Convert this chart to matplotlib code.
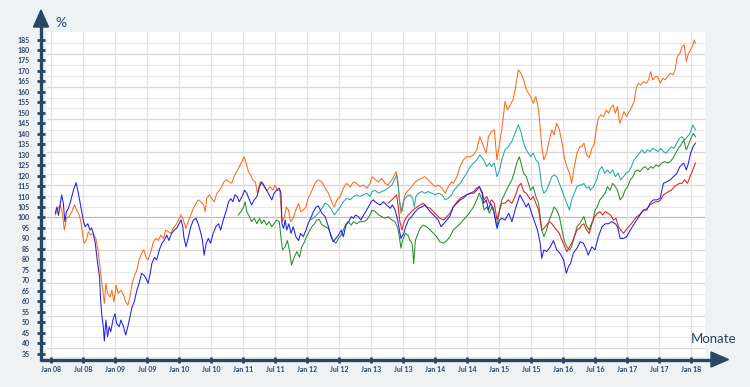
import matplotlib.pyplot as plt
from matplotlib.lines import Line2D
from matplotlib.patches import Polygon

# (months since Jan 2008, value in %)
orange = [(0.8, 101.2), (1.3, 104.4), (1.7, 106), (2.1, 102.8), (2.5, 94), (2.9, 99.6), (3.4, 100.4), (3.9, 102.8),
          (4.4, 106), (4.8, 103.6), (5.3, 101.2), (5.6, 98), (5.9, 92.4), (6.2, 87.7), (6.6, 89), (7.0, 93.2),
          (7.4, 91.6), (7.9, 92.4), (8.4, 90), (8.8, 84.5), (9.1, 78), (9.4, 71.7), (9.7, 65.3), (10.0, 59),
          (10.3, 68.5), (10.6, 63.7), (11.1, 62), (11.4, 65.3), (11.8, 59.7), (12.2, 67.7), (12.6, 63.7),
          (13.1, 65.3), (13.6, 63), (14.0, 59.7), (14.4, 58.1), (14.8, 62), (15.2, 68.5), (15.6, 71.7), (16.1, 75),
          (16.5, 79.7), (17.0, 82.9), (17.4, 84.5), (17.8, 81), (18.2, 79.7), (18.8, 84.5), (19.2, 88.4),
          (19.7, 90), (20.1, 89), (20.6, 91.6), (21.1, 90), (21.5, 94), (22.0, 93.2), (22.5, 92.4), (22.9, 94.8),
          (23.4, 96.4), (23.9, 98.8), (24.4, 101.2), (24.8, 98.8), (25.3, 94.8), (25.7, 98), (26.2, 101.2),
          (26.7, 104.4), (27.2, 106.8), (27.6, 108.4), (28.1, 107.5), (28.6, 106), (28.9, 102.8), (29.2, 109.2),
          (29.7, 110.8), (30.1, 109.2), (30.6, 107.5), (31.1, 111.6), (31.6, 113), (32.0, 114.7), (32.4, 117),
          (32.9, 118), (33.4, 117), (33.9, 116.3), (34.3, 119.5), (34.8, 121.9), (35.3, 124.3), (35.8, 126.7),
          (36.2, 129), (36.6, 125.9), (37.0, 121.9), (37.4, 120.3), (37.8, 118), (38.3, 117), (38.7, 111.6),
          (39.2, 117), (39.7, 115.5), (40.1, 114), (40.6, 113), (41.1, 114.7), (41.6, 113), (42.0, 115.5),
          (42.4, 113), (42.9, 113), (43.3, 98), (43.7, 99.6), (44.1, 105), (44.5, 103.6), (44.9, 98), (45.4, 99.6),
          (45.9, 103.6), (46.4, 106.8), (46.8, 102.8), (47.3, 103.6), (47.8, 105), (48.2, 109.2), (48.7, 111.6),
          (49.2, 114.7), (49.7, 117), (50.1, 118), (50.8, 117), (51.4, 114), (52.0, 111.6), (52.6, 107.5),
          (53.1, 105), (53.6, 108.4), (54.2, 110), (54.8, 114), (55.4, 116.3), (56.1, 114.7), (56.7, 117),
          (57.3, 116.3), (57.9, 114.7), (58.6, 115.5), (59.2, 114), (59.8, 116.3), (60.2, 119.5), (60.8, 118),
          (61.4, 117), (62.0, 118.7), (62.6, 116.3), (63.2, 115.5), (63.9, 118), (64.4, 120.3), (64.7, 121.9),
          (65.0, 118), (65.3, 108.4), (65.6, 102), (66.1, 108.4), (66.5, 111.6), (67.0, 113), (67.6, 114.7),
          (68.3, 117), (68.9, 118), (69.5, 118.7), (70.1, 119.5), (70.7, 118), (71.4, 116.3), (72.0, 114.7),
          (72.6, 115.5), (73.3, 114), (73.9, 111.6), (74.5, 114.7), (75.1, 117), (75.4, 116.3), (76.1, 119.5),
          (76.7, 124.3), (77.3, 127.5), (77.9, 129), (78.6, 129), (79.2, 129.9), (79.8, 132.3), (80.4, 138.6),
          (81.1, 133.8), (81.6, 130.7), (82.0, 138.6), (82.6, 141), (83.1, 141.9), (83.6, 127.5), (84.1, 135.5),
          (84.5, 141.9), (84.8, 148.2), (85.1, 155.4), (85.6, 151.4), (86.1, 153.8), (86.6, 156.2), (87.0, 161),
          (87.3, 165.7), (87.6, 170.5), (88.1, 168.9), (88.6, 165.7), (89.1, 161), (89.5, 159.3), (89.9, 157.8),
          (90.4, 154.6), (90.9, 157.8), (91.4, 151.4), (91.7, 143.4), (92.0, 133.8), (92.4, 127.5), (92.9, 130.7),
          (93.4, 137), (93.9, 141.9), (94.3, 139.4), (94.8, 145), (95.3, 141.9), (95.8, 135.5), (96.2, 129),
          (96.7, 124.3), (97.2, 121.1), (97.6, 116.3), (98.1, 124.3), (98.6, 130.7), (99.1, 133.8), (99.5, 133.8),
          (99.9, 135.5), (100.4, 129.9), (100.9, 128.5), (101.4, 133), (101.8, 134.7), (102.2, 141.9),
          (102.6, 147.5), (103.1, 149), (103.6, 148.2), (104.1, 151.4), (104.5, 149.8), (104.9, 152.2),
          (105.4, 153.8), (105.8, 149.8), (106.2, 153), (106.6, 145), (107.0, 147.5), (107.4, 150.6),
          (107.9, 148.2), (108.4, 150.6), (108.9, 153), (109.3, 155.4), (109.7, 161.7), (110.1, 164.1),
          (110.6, 163.3), (111.1, 164.9), (111.6, 164.1), (112.0, 165.7), (112.4, 169.7), (112.8, 165.7),
          (113.3, 167.3), (113.7, 167.3), (114.2, 164.1), (114.7, 166.5), (115.1, 165.7), (115.6, 167.3),
          (116.1, 168.9), (116.6, 168.1), (117.0, 170.5), (117.4, 176.8), (117.9, 178.4), (118.3, 181.6),
          (118.7, 182.4), (119.1, 174.5), (119.5, 178.4), (119.9, 180), (120.3, 182.4), (120.6, 184.8),
          (120.8, 183.2)]

teal = [(48.8, 99), (49.5, 100.4), (50.1, 102), (50.8, 104.4), (51.4, 106.8), (52.0, 106), (52.6, 103.6),
        (53.1, 101.2), (53.6, 102.8), (54.2, 105), (54.8, 107.5), (55.4, 109.2), (56.1, 108.4), (56.7, 110),
        (57.3, 110.8), (57.9, 110), (58.6, 110.8), (59.2, 111.6), (59.8, 110), (60.2, 112.4), (60.8, 113),
        (61.4, 111.6), (62.0, 112.4), (62.6, 113), (63.2, 114), (63.9, 115.5), (64.5, 118.7), (64.8, 120.3),
        (65.1, 114.7), (65.4, 106.8), (65.8, 102.8), (66.2, 108.4), (66.7, 110), (67.3, 110.8), (67.8, 109.2),
        (68.1, 105), (68.4, 110), (68.9, 111.6), (69.5, 112.4), (70.1, 111.6), (70.7, 112.4), (71.4, 111.6),
        (72.0, 110.8), (72.6, 111.6), (73.3, 110.8), (73.9, 108.4), (74.5, 109.2), (75.1, 110.8), (75.4, 112.4),
        (76.1, 114.7), (76.7, 116.3), (77.3, 118.7), (77.9, 121.1), (78.6, 124.3), (79.2, 126), (79.8, 127.5),
        (80.4, 129.9), (81.1, 127.5), (81.7, 124.3), (82.2, 126), (82.6, 124.3), (83.1, 126), (83.6, 119.5),
        (84.1, 122.7), (84.5, 127.5), (85.1, 132.3), (85.7, 133.8), (86.4, 136.3), (87.0, 140.2), (87.6, 144.2),
        (88.1, 141), (88.6, 135.5), (89.1, 132.3), (89.5, 130.7), (89.9, 129), (90.4, 130.7), (90.9, 127.5),
        (91.4, 126), (91.7, 121.1), (92.0, 114.7), (92.4, 111.6), (92.9, 113), (93.4, 116.3), (93.9, 119.5),
        (94.3, 120.3), (94.8, 119.5), (95.3, 116.3), (95.8, 113), (96.2, 110), (96.7, 106.8), (97.2, 103.6),
        (97.6, 108.4), (98.1, 111.6), (98.6, 114.7), (99.1, 115.5), (99.5, 115.5), (99.9, 116.3), (100.4, 114),
        (100.9, 114.7), (101.1, 113), (101.7, 114.7), (102.3, 118), (102.8, 122.7), (103.3, 124.3),
        (103.8, 121.1), (104.3, 122.7), (104.8, 121.1), (105.3, 122.7), (105.8, 119.5), (106.3, 121.1),
        (106.8, 118), (107.3, 119.5), (107.8, 121.1), (108.3, 121.9), (108.8, 124.3), (109.3, 127.5),
        (109.8, 129), (110.3, 130.7), (110.8, 132.3), (111.3, 130.7), (111.8, 132.3), (112.3, 131.5),
        (112.8, 133), (113.3, 132.3), (113.8, 131.5), (114.3, 133), (114.8, 131.5), (115.3, 130.7),
        (115.8, 132.3), (116.3, 133.8), (116.8, 133), (117.3, 135.5), (117.8, 137.8), (118.3, 138.6),
        (118.8, 137), (119.3, 138.6), (119.8, 140.2), (120.3, 144.2), (120.8, 141.9)]

green = [(35.1, 101.2), (35.6, 102.8), (36.1, 105), (36.4, 107.5), (36.7, 102.8), (37.2, 100.4), (37.6, 98),
         (38.1, 99.6), (38.6, 97), (39.1, 99.6), (39.5, 97), (39.9, 98.8), (40.4, 96.4), (40.9, 98), (41.4, 95.6),
         (41.8, 97), (42.3, 98.8), (42.8, 98), (43.1, 90.8), (43.4, 84.5), (43.9, 86), (44.3, 89), (44.7, 84.5),
         (45.1, 77.3), (45.6, 81), (46.1, 83.7), (46.6, 81), (47.0, 86), (47.4, 87.7), (47.9, 90.8), (48.4, 93.2),
         (48.9, 95.6), (49.4, 97), (49.8, 98.8), (50.3, 99), (50.8, 96.4), (51.4, 95.6), (52.0, 94.8),
         (52.5, 91.6), (52.9, 89), (53.4, 87.7), (53.9, 90), (54.4, 91.6), (54.8, 94), (55.3, 97), (55.7, 98),
         (56.3, 96.4), (56.7, 98), (57.3, 97), (57.9, 98), (58.6, 98), (59.2, 98.8), (59.8, 101.2), (60.2, 103.6),
         (60.8, 102.8), (61.4, 101.2), (62.0, 100.4), (62.6, 99.6), (63.2, 100.4), (63.9, 98.8), (64.5, 98),
         (65.0, 94.8), (65.3, 90.8), (65.6, 85.3), (65.9, 89), (66.4, 92.4), (66.9, 91.6), (67.3, 89),
         (67.7, 87.7), (68.0, 78), (68.3, 89), (68.8, 92.4), (69.2, 94.8), (69.8, 96.4), (70.4, 95.6), (71.1, 94),
         (71.7, 92.4), (72.3, 90.8), (72.9, 88.4), (73.6, 87.7), (74.2, 89), (74.8, 90.8), (75.4, 94),
         (76.1, 95.6), (76.7, 97), (77.3, 98.8), (77.9, 100.4), (78.6, 102.8), (79.2, 105), (79.8, 108.4),
         (80.3, 111.6), (80.8, 108.4), (81.2, 103.6), (81.7, 105), (82.2, 102), (82.6, 105), (83.1, 102),
         (83.6, 95.6), (84.1, 103.6), (84.5, 108.4), (85.1, 111.6), (85.7, 114.7), (86.4, 118), (86.8, 121.1),
         (87.3, 126), (87.8, 129), (88.1, 126), (88.6, 121.1), (89.1, 119.5), (89.5, 116.3), (89.9, 113),
         (90.4, 114.7), (90.9, 110), (91.4, 106.8), (91.7, 100.4), (92.0, 94), (92.4, 90.8), (92.9, 94),
         (93.4, 98.8), (93.9, 102), (94.3, 105), (94.8, 103.6), (95.3, 100.4), (95.8, 94), (96.2, 89), (96.7, 86),
         (97.2, 84.5), (97.6, 86), (98.1, 90.8), (98.6, 95.6), (99.1, 97), (99.5, 98.8), (99.9, 100.4),
         (100.4, 96), (100.9, 94), (101.1, 95.6), (101.6, 98.8), (102.0, 103.6), (102.4, 105), (102.9, 108.4),
         (103.4, 110), (103.9, 111.6), (104.3, 114.7), (104.8, 113), (105.3, 116.3), (105.8, 114.7),
         (106.2, 113), (106.7, 108.4), (107.2, 110), (107.6, 113), (108.1, 114.7), (108.6, 118), (109.1, 119.5),
         (109.5, 121.9), (109.9, 122.7), (110.4, 121.9), (110.9, 123.5), (111.4, 124.3), (111.9, 122.7),
         (112.4, 124.3), (112.9, 123.5), (113.4, 125.1), (113.9, 124.3), (114.5, 126), (115.0, 126.7),
         (115.6, 126), (116.1, 126.7), (116.6, 128.3), (117.1, 130.7), (117.6, 133), (118.1, 134.7),
         (118.6, 137), (119.1, 132.3), (119.6, 135.5), (120.1, 138.6), (120.4, 140.2), (120.8, 138.6)]

red = [(63.2, 106.8), (63.9, 108.4), (64.5, 110), (64.8, 110.8), (65.1, 105), (65.4, 98), (65.8, 94), (66.2, 98),
       (66.7, 100.4), (67.3, 102), (67.9, 103.6), (68.6, 105), (69.2, 106), (69.8, 106.8), (70.4, 105),
       (71.1, 104.4), (71.7, 102.8), (72.3, 101.2), (72.9, 99.6), (73.6, 98.8), (74.2, 100.4), (74.8, 102),
       (75.4, 105), (76.1, 107.5), (76.7, 109.2), (77.3, 110), (77.9, 110.8), (78.6, 111.6), (79.2, 112.4),
       (79.8, 114), (80.3, 114.7), (80.8, 112.4), (81.2, 108.4), (81.7, 110), (82.2, 106.8), (82.6, 108.4),
       (83.1, 106.8), (83.6, 98.8), (84.1, 103.6), (84.5, 106.8), (85.1, 106.8), (85.7, 108.4), (86.4, 106.8),
       (87.0, 110), (87.6, 114.7), (88.1, 116.3), (88.6, 112.4), (89.1, 111.6), (89.5, 110), (89.9, 108.4),
       (90.4, 110), (90.9, 106.8), (91.4, 103.6), (91.7, 98.8), (92.0, 94), (92.4, 94.8), (92.9, 96.4),
       (93.4, 98), (93.9, 97), (94.3, 95.6), (94.8, 94), (95.3, 92.4), (95.8, 89), (96.2, 86.8), (96.7, 83.7),
       (97.2, 86), (97.6, 87.7), (98.1, 90.8), (98.6, 94), (99.1, 94.8), (99.5, 96.4), (99.9, 97), (100.4, 94),
       (100.9, 92.4), (101.4, 97), (101.9, 100.4), (102.4, 102), (102.9, 102.8), (103.4, 101.2), (103.9, 102.8),
       (104.4, 102), (104.9, 101.2), (105.4, 98.8), (105.9, 99.6), (106.4, 95.6), (106.8, 94), (107.3, 92.4),
       (107.8, 94), (108.3, 95.6), (108.8, 97), (109.3, 98.8), (109.8, 100.4), (110.3, 101.2), (110.8, 102.8),
       (111.3, 103.6), (111.8, 104.4), (112.3, 106), (112.8, 106.8), (113.3, 107.5), (113.8, 107.5),
       (114.3, 108.4), (114.8, 110.8), (115.3, 111.6), (115.8, 112.4), (116.3, 113), (116.8, 114.7),
       (117.3, 115.5), (117.8, 116.3), (118.3, 116.3), (118.8, 118), (119.3, 116.3), (119.8, 119.5),
       (120.3, 122.7), (120.8, 126)]

blue = [(0.8, 102), (1.1, 105), (1.4, 101), (1.7, 106), (2.0, 110.8), (2.3, 107), (2.6, 98), (2.9, 102.8),
        (3.2, 104), (3.6, 107), (3.9, 110), (4.2, 113), (4.7, 116.6), (5.1, 112), (5.6, 105), (6.1, 98),
        (6.4, 95.6), (6.9, 97), (7.3, 94), (7.6, 95), (7.9, 92.4), (8.3, 87.7), (8.6, 81), (8.9, 75), (9.1, 71.7),
        (9.3, 60.5), (9.5, 54), (9.8, 47.8), (10.0, 41), (10.3, 51), (10.6, 43), (10.9, 47.8), (11.2, 45.4),
        (11.6, 51), (12.0, 54), (12.3, 49.4), (12.8, 47.8), (13.1, 51), (13.6, 47.8), (14.0, 43.8), (14.4, 47.8),
        (14.8, 52.5), (15.2, 57.3), (15.6, 59.7), (16.1, 65.3), (16.5, 68.5), (17.0, 73.3), (17.4, 72.5),
        (17.8, 71), (18.2, 68.5), (18.6, 73.3), (18.9, 78), (19.4, 81), (19.8, 79.7), (20.3, 84.5), (20.8, 87.7),
        (21.2, 89), (21.7, 91.6), (22.1, 89), (22.6, 92.4), (23.1, 94), (23.6, 95), (24.0, 97), (24.4, 98.8),
        (24.7, 95.6), (24.9, 90.8), (25.3, 86), (25.7, 90), (26.2, 95.6), (26.7, 98.8), (27.2, 99.6), (27.6, 97),
        (28.1, 92.4), (28.4, 89), (28.7, 82), (29.1, 87.7), (29.5, 90), (29.9, 87.7), (30.4, 92.4), (30.9, 95.6),
        (31.4, 97), (31.8, 94), (32.3, 98.8), (32.8, 102.8), (33.3, 107.5), (33.7, 109), (34.1, 107.5),
        (34.5, 110.8), (34.9, 110), (35.3, 107.5), (35.8, 110), (36.3, 113), (36.7, 111.6), (37.1, 109),
        (37.6, 106), (38.1, 108.4), (38.6, 110), (39.1, 114.7), (39.5, 117), (39.9, 115.5), (40.4, 113),
        (40.9, 110.8), (41.4, 108.4), (41.8, 111.6), (42.3, 113), (42.8, 114), (43.1, 111.6), (43.3, 97),
        (43.6, 94.8), (43.9, 98.8), (44.2, 94), (44.6, 97), (45.0, 92.4), (45.4, 95.6), (45.9, 90.8), (46.4, 89),
        (46.8, 92.4), (47.3, 90.8), (47.8, 94), (48.2, 97), (48.8, 100.4), (49.2, 102.8), (49.7, 105),
        (50.1, 105.5), (50.8, 102), (51.4, 100.4), (52.0, 95.6), (52.5, 90.8), (52.9, 88.4), (53.4, 90),
        (53.9, 91.6), (54.4, 94), (54.8, 90.8), (55.3, 96.4), (55.8, 98), (56.3, 100.4), (56.7, 99.6),
        (57.1, 101.2), (57.6, 100.4), (58.1, 98.8), (58.6, 101.2), (59.0, 102.8), (59.5, 105), (60.0, 107.5),
        (60.4, 108.4), (61.1, 106.8), (61.7, 106), (62.3, 107.5), (62.9, 106), (63.6, 104.4), (64.0, 106),
        (64.5, 103.6), (65.0, 98.8), (65.3, 94), (65.6, 90), (66.1, 92.4), (66.5, 95.6), (67.0, 98.8),
        (67.6, 100.4), (68.3, 102.8), (68.9, 104.4), (69.5, 105), (70.1, 106), (70.8, 103.6), (71.4, 102),
        (72.0, 100.4), (72.6, 98.8), (73.1, 95.6), (73.6, 97), (74.2, 98.8), (74.8, 100.8), (75.4, 105),
        (76.1, 106.8), (76.7, 108.4), (77.3, 109.2), (77.9, 110.8), (78.6, 111.6), (79.2, 111.6), (79.8, 113),
        (80.3, 114.7), (80.8, 111.6), (81.1, 106.8), (81.6, 108.4), (82.0, 103.6), (82.4, 106.8), (82.9, 104.4),
        (83.6, 94.8), (84.1, 98.8), (84.5, 99.6), (85.1, 98.8), (85.8, 102), (86.4, 98), (87.0, 103.6),
        (87.6, 108.4), (87.9, 110.8), (88.6, 107.5), (89.1, 105), (89.5, 106.8), (90.1, 102), (90.8, 97),
        (91.2, 94), (91.7, 87.7), (92.0, 80.5), (92.4, 84.5), (92.9, 83.7), (93.6, 86), (94.2, 89), (94.8, 84.5),
        (95.4, 82.9), (96.1, 79.7), (96.6, 73.3), (97.0, 76.5), (97.4, 78), (97.9, 82.9), (98.6, 85.3),
        (99.2, 88.4), (99.8, 87.7), (100.4, 84.5), (100.7, 82), (101.4, 86), (102.0, 84.5), (102.6, 90.8),
        (103.3, 95.6), (103.9, 97), (104.5, 97), (105.1, 98), (105.8, 97), (106.2, 95.6), (106.7, 90),
        (107.3, 90), (107.9, 90.8), (108.6, 94), (109.2, 96.4), (109.8, 98.8), (110.4, 101.2), (111.1, 103.6),
        (111.7, 103.6), (112.3, 106.8), (112.9, 108.4), (113.6, 108.4), (114.2, 109.2), (114.8, 116.3),
        (115.4, 117), (116.1, 118), (116.7, 119.5), (117.3, 121), (117.9, 124.3), (118.6, 126), (119.1, 122.7),
        (119.5, 126), (119.9, 130.7), (120.4, 134), (120.8, 135.5)]

series = [(orange, "#ff6a1a"), (teal, "#26a6a6"), (green, "#2a8c2a"), (red, "#e01e1e"), (blue, "#1f1ff0")]

tick_months = list(range(0, 121, 6))
tick_labels = [f"{m} {y:02d}" for y in range(8, 19) for m in ("Jan", "Jul")][:len(tick_months)]
y_ticks = list(range(35, 186, 5))

W, H = 750, 387
BG = "#eef2f3"
NAVY = "#264766"
LABEL = "#2c4762"
plt.rcParams["font.family"] = ["Lato", "DejaVu Sans"]


def fx(px):
    return px / W


def fy(py):
    return 1 - py / H


fig = plt.figure(figsize=(7.5, 3.87), dpi=100, facecolor=BG)
ax = fig.add_axes([fx(47), fy(357), fx(705) - fx(47), fy(32) - fy(357)])
ax.set_facecolor("white")
ax.set_xlim(-0.75, 122.6)
ax.set_ylim(33.35, 188.6)

# gridlines: the reference's grid runs on a slightly wider spacing than its axis labels
grid_step = 5 * 2.18 / 2.093
for k in range(-12, 17):
    v = 100 + k * grid_step
    col = "#bdbdbd" if k == 0 else ("#d6d6d6" if k % 3 == 0 else "#e8e8e8")
    ax.axhline(v, color=col, lw=0.9, zorder=0)
for m in tick_months:
    ax.axvline(m, color="#e3e3e3", lw=0.9, zorder=0)

for data, color in series:
    xs = [p[0] for p in data]
    ys = [p[1] for p in data]
    ax.plot(xs, ys, color=color, lw=0.75, zorder=2)

for s in ax.spines.values():
    s.set_visible(False)
ax.spines["left"].set_position(("outward", 4.3))
ax.spines["bottom"].set_position(("outward", 1.8))

ax.set_yticks(y_ticks)
ax.set_yticklabels([str(v) for v in y_ticks])
ax.set_xticks(tick_months)
ax.set_xticklabels(tick_labels)
ax.tick_params(axis="y", direction="inout", length=5.8, width=2.0, color=NAVY, pad=5,
               labelsize=5, labelcolor=LABEL)
ax.tick_params(axis="x", direction="inout", length=4.5, width=2.0, color=NAVY, pad=2.5,
               labelsize=5, labelcolor=LABEL)
for lab in ax.get_xticklabels() + ax.get_yticklabels():
    lab.set_fontweight("bold")

# axis lines with arrow heads
fig.add_artist(Line2D([fx(41), fx(41)], [fy(361), fy(24)], color=NAVY, lw=2.4, solid_capstyle="butt"))
fig.add_artist(Line2D([fx(39.5), fx(713)], [fy(359.5), fy(359.5)], color=NAVY, lw=2.4, solid_capstyle="butt"))
fig.add_artist(Polygon([[fx(33.5), fy(27)], [fx(48.5), fy(27)], [fx(41), fy(10)]], closed=True,
                       transform=fig.transFigure, color=NAVY))
fig.add_artist(Polygon([[fx(711), fy(352)], [fx(711), fy(367)], [fx(728.5), fy(359.5)]], closed=True,
                       transform=fig.transFigure, color=NAVY))

fig.text(fx(55), fy(27), "%", fontsize=10, color=NAVY, va="baseline")
fig.text(fx(690.5), fy(343), "Monate", fontsize=9.5, color=NAVY, va="baseline")

fig.savefig("out.png", dpi=100, facecolor=BG)
